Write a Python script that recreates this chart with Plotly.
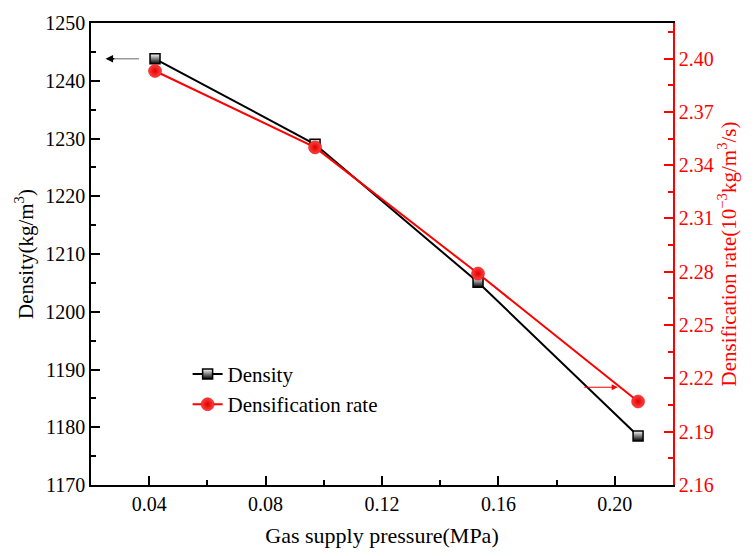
import plotly.graph_objects as go

pressure = [0.042, 0.097, 0.153, 0.208]
density = [1243.8, 1229.0, 1205.1, 1178.5]
dens_rate = [2.393, 2.350, 2.279, 2.207]

FONT = "Liberation Serif"
RED = "#ff0000"
TICK = 20
TITLE = 21

fig = go.Figure()
fig.add_trace(go.Scatter(
    x=pressure, y=density, name="Density", mode="lines+markers",
    line=dict(color="black", width=2),
    marker=dict(symbol="square", size=10, color="white",
                gradient=dict(type="vertical", color="black"),
                line=dict(color="black", width=1.5)),
))
fig.add_trace(go.Scatter(
    x=pressure, y=dens_rate, name="Densification rate", mode="lines+markers",
    yaxis="y2",
    line=dict(color=RED, width=2),
    marker=dict(symbol="circle", size=13, color="#ff4040",
                gradient=dict(type="radial", color="#e00000"),
                line=dict(color="#e00000", width=0.5)),
))

# arrows indicating axes
fig.add_annotation(x=0.0265, y=density[0], ax=0.037, ay=density[0],
                   xref="x", yref="y", axref="x", ayref="y",
                   showarrow=True, arrowhead=0, arrowwidth=1.5,
                   arrowcolor="#999999", text="")
fig.add_annotation(x=0.025, y=density[0], ax=0.0285, ay=density[0],
                   xref="x", yref="y", axref="x", ayref="y",
                   showarrow=True, arrowhead=2, arrowsize=1, arrowwidth=1.5,
                   arrowcolor="black", text="")
fig.add_annotation(x=0.201, y=2.215, ax=0.189, ay=2.215,
                   xref="x", yref="y2", axref="x", ayref="y2",
                   showarrow=True, arrowhead=2, arrowsize=1, arrowwidth=1.2,
                   arrowcolor=RED, text="")

fig.update_layout(
    width=756, height=556,
    margin=dict(l=91, r=83, t=18, b=68),
    paper_bgcolor="white", plot_bgcolor="white",
    font=dict(family=FONT, size=TICK, color="black"),
    showlegend=True,
    legend=dict(x=0.166, y=0.284, xanchor="left", yanchor="top",
                bgcolor="rgba(0,0,0,0)", font=dict(family=FONT, size=21),
                tracegroupgap=0),
    xaxis=dict(
        range=[0.02, 0.22], tickvals=[0.04, 0.08, 0.12, 0.16, 0.20],
        ticktext=["0.04", "0.08", "0.12", "0.16", "0.20"],
        ticks="inside", ticklen=9, tickwidth=1.5, tickcolor="black",
        minor=dict(dtick=0.02, tick0=0.0, ticks="inside", ticklen=5, tickwidth=1.5, tickcolor="black"),
        showline=True, linecolor="black", linewidth=1.5, mirror=True,
        showgrid=False, zeroline=False,
        title=dict(text="Gas supply pressure(MPa)", font=dict(family=FONT, size=22), standoff=14),
        tickfont=dict(family=FONT, size=TICK),
    ),
    yaxis=dict(
        range=[1170, 1250], dtick=10, tick0=1170,
        ticks="inside", ticklen=9, tickwidth=1.5, tickcolor="black",
        minor=dict(dtick=5, ticks="inside", ticklen=5, tickwidth=1.5, tickcolor="black"),
        showline=True, linecolor="black", linewidth=1.5,
        showgrid=False, zeroline=False,
        title=dict(text="Density(kg/m<sup>3</sup>)", font=dict(family=FONT, size=TITLE), standoff=6),
        tickfont=dict(family=FONT, size=TICK),
    ),
    yaxis2=dict(
        range=[2.16, 2.42], tickvals=[2.16, 2.19, 2.22, 2.25, 2.28, 2.31, 2.34, 2.37, 2.40],
        ticktext=["2.16", "2.19", "2.22", "2.25", "2.28", "2.31", "2.34", "2.37", "2.40"],
        overlaying="y", side="right",
        ticks="inside", ticklen=9, tickwidth=1.5, tickcolor=RED,
        minor=dict(dtick=0.015, tick0=2.16, ticks="inside", ticklen=5, tickwidth=1.5, tickcolor=RED),
        showline=True, linecolor=RED, linewidth=1.5,
        showgrid=False, zeroline=False,
        title=dict(text="Densification rate(10<sup>\u22123</sup>kg/m<sup>3</sup>/s)",
                   font=dict(family=FONT, size=TITLE, color=RED), standoff=8),
        tickfont=dict(family=FONT, size=TICK, color=RED),
    ),
)

fig.write_html("out.html")
